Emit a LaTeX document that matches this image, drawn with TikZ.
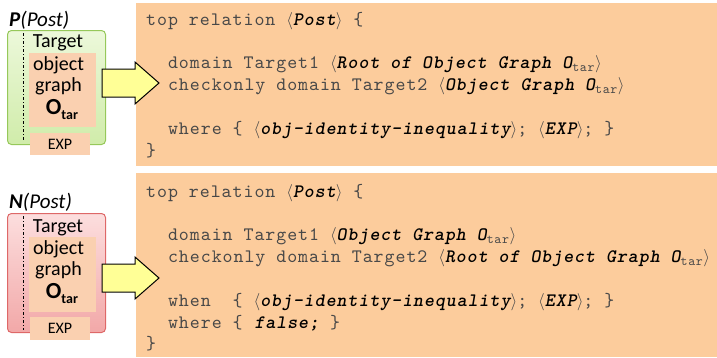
\documentclass[tikz,border=0pt]{standalone}
\usepackage{fontspec}
\setmainfont{Carlito}
\newfontfamily\codefont{lmmono10-regular}[Extension=.otf,
  BoldFont=lmmonolt10-bold, BoldItalicFont=lmmonolt10-boldoblique,
  ItalicFont=lmmono10-italic, LetterSpace=5]
\usetikzlibrary{positioning}

\definecolor{peach}{RGB}{252,204,156}
\definecolor{peachin}{RGB}{250,208,176}
\definecolor{codegray}{RGB}{72,72,72}
\definecolor{postgreen}{RGB}{150,200,90}
\definecolor{greentop}{RGB}{236,248,218}
\definecolor{greenbot}{RGB}{208,236,170}
\definecolor{postred}{RGB}{222,104,104}
\definecolor{redtop}{RGB}{252,222,222}
\definecolor{redbot}{RGB}{242,168,168}
\definecolor{arrowyellow}{RGB}{255,255,150}

% placeholder in the relation code
\newcommand\ph[1]{{\color{codegray}$\langle$}\textbf{\textit{\color{black}#1}}{\color{codegray}$\rangle$}}
\newcommand\otar{O\textsubscript{\mdseries\upshape\color{codegray}tar}}
\newcommand\bigO{{\fontsize{23}{23}\selectfont\bfseries O\raisebox{-5pt}{\fontsize{14}{14}\selectfont tar}}}

\tikzset{
  codebox/.style={fill=peach, inner sep=0, anchor=north west},
  codetext/.style={anchor=north west, inner sep=0, align=left,
    font=\codefont\fontsize{19}{21.8}\selectfont, text=codegray},
  postbox/.style={rounded corners=4pt, line width=1pt, inner sep=0, anchor=north west},
  graphbox/.style={fill=peachin, inner sep=0},
  sidetext/.style={inner sep=0, font=\fontsize{20}{20}\selectfont},
  bigarrow/.style={draw=black, line width=1pt, fill=arrowyellow, line join=miter},
}

\begin{document}
\begin{tikzpicture}[x=1pt,y=-1pt]
  \useasboundingbox (0,0) rectangle (717,357);

  % positive condition
  \node[postbox, draw=postgreen, top color=greentop, bottom color=greenbot,
        minimum width=98pt, minimum height=114pt] (pbox) at (7,30) {};
  \draw[line width=1pt, dash pattern=on 3pt off 2pt on 1pt off 2pt] (23,33) -- (23,141);
  \node[sidetext, anchor=west, font=\fontsize{21}{21}\selectfont] (plabel) at (9,20) {\textbf{\textit{P}}\textit{(Post)}};
  \node[sidetext] (ptarget) at (58,43) {Target};
  \node[graphbox, minimum width=67pt, minimum height=74pt] (pgraph) at (62.5,90) {};
  \node[sidetext] (pobject) at (58.5,65) {object};
  \node[sidetext] (pgraphtxt) at (58.5,86) {graph};
  \node[sidetext] (potar) at (62,110) {\bigO};
  \node[graphbox, minimum width=60pt, minimum height=22pt, font=\fontsize{16}{16}\selectfont] (pexp) at (60,144) {EXP};

  \node[codebox, minimum width=581pt, minimum height=163pt] (pcode) at (136,3) {};
  \node[codetext] (pcodetxt) at (146,12) {top relation \ph{Post} \{\\
    \mbox{}\\
    \ \ domain Target1 \ph{Root of Object Graph \otar}\\
    \ \ checkonly domain Target2 \ph{Object Graph \otar}\\
    \mbox{}\\
    \ \ where \{ \ph{obj-identity-inequality}; \ph{EXP}; \}\\
    \}};

  \coordinate (parrow) at (102,83);
  \draw[bigarrow, shift={(parrow)}] (0,-14) -- (33,-14) -- (33,-21) -- (57,0)
    -- (33,21) -- (33,14) -- (0,14) -- cycle;

  % negative condition
  \node[postbox, draw=postred, top color=redtop, bottom color=redbot,
        minimum width=98pt, minimum height=119pt] (nbox) at (7,213) {};
  \draw[line width=1pt, dash pattern=on 3pt off 2pt on 1pt off 2pt] (23,216) -- (23,330);
  \node[sidetext, anchor=west, font=\fontsize{21}{21}\selectfont] (nlabel) at (9,202) {\textbf{\textit{N}}\textit{(Post)}};
  \node[sidetext] (ntarget) at (58,228) {Target};
  \node[graphbox, minimum width=67pt, minimum height=75pt] (ngraph) at (62.5,274.5) {};
  \node[sidetext] (nobject) at (58.5,249) {object};
  \node[sidetext] (ngraphtxt) at (58.5,270) {graph};
  \node[sidetext] (notar) at (62,294) {\bigO};
  \node[graphbox, minimum width=60pt, minimum height=23pt, font=\fontsize{16}{16}\selectfont] (nexp) at (60,328.5) {EXP};

  \node[codebox, minimum width=581pt, minimum height=184pt] (ncode) at (136,173) {};
  \node[codetext] (ncodetxt) at (146,184) {top relation \ph{Post} \{\\
    \mbox{}\\
    \ \ domain Target1 \ph{Object Graph \otar}\\
    \ \ checkonly domain Target2 \ph{Root of Object Graph \otar}\\
    \mbox{}\\
    \ \ when \ \{ \ph{obj-identity-inequality}; \ph{EXP}; \}\\
    \ \ where \{ \textbf{\textit{\color{black}false;}} \}\\
    \}};

  \coordinate (narrow) at (102,278);
  \draw[bigarrow, shift={(narrow)}] (0,-14) -- (33,-14) -- (33,-21) -- (57,0)
    -- (33,21) -- (33,14) -- (0,14) -- cycle;
\end{tikzpicture}
\end{document}
